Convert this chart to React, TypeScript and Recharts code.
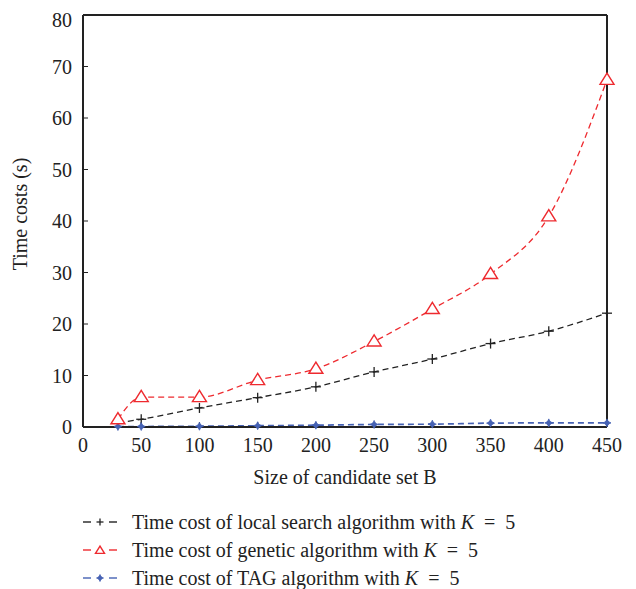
import React from 'react';
import { LineChart, Line, XAxis, YAxis, Label } from 'recharts';

const sizes = [30, 50, 100, 150, 200, 250, 300, 350, 400, 450];
const localSearch = [0.8, 1.5, 3.7, 5.7, 7.8, 10.7, 13.2, 16.2, 18.6, 22.1];
const genetic = [1.5, 5.8, 5.8, 9.1, 11.3, 16.6, 22.9, 29.7, 40.9, 67.4];
const tag = [0.1, 0.1, 0.15, 0.25, 0.35, 0.5, 0.55, 0.75, 0.8, 0.8];
const xTicks = [0, 50, 100, 150, 200, 250, 300, 350, 400, 450];
const yTicks = [0, 10, 20, 30, 40, 50, 60, 70, 80];

const data = sizes.map((s, i) => ({ size: s, local: localSearch[i], genetic: genetic[i], tag: tag[i] }));

const BLACK = '#222222';
const RED = '#ee2a2f';
const BLUE = '#4662b4';
const FONT = '"Liberation Serif", "DejaVu Serif", serif';
const FS = 20;

const PlusMark = ({ cx, cy, color = BLACK, r = 5 }: any) => (
  <g>
    <line x1={cx - r} y1={cy} x2={cx + r} y2={cy} stroke={color} strokeWidth={1.3} />
    <line x1={cx} y1={cy - r} x2={cx} y2={cy + r} stroke={color} strokeWidth={1.3} />
  </g>
);

const TriMark = ({ cx, cy, color = RED, r = 7 }: any) => {
  const h = r * 1.6;
  const pts = `${cx},${cy - h * 0.6} ${cx - r},${cy + h * 0.4} ${cx + r},${cy + h * 0.4}`;
  return <polygon points={pts} fill="white" stroke={color} strokeWidth={1.4} />;
};

const StarMark = ({ cx, cy, color = BLUE, r = 4 }: any) => {
  const pts: string[] = [];
  for (let i = 0; i < 8; i++) {
    const rr = i % 2 === 0 ? r : r * 0.45;
    const a = (Math.PI / 4) * i - Math.PI / 2;
    pts.push(`${cx + rr * Math.cos(a)},${cy + rr * Math.sin(a)}`);
  }
  return (
    <g>
      <polygon points={pts.join(' ')} fill={color} stroke={color} strokeWidth={0.8} />
      <circle cx={cx} cy={cy} r={r * 0.55} fill={color} />
    </g>
  );
};

const renderPlus = (p: any) => <PlusMark key={`p${p.index}`} cx={p.cx} cy={p.cy} />;
const renderTri = (p: any) => <TriMark key={`t${p.index}`} cx={p.cx} cy={p.cy} />;
const renderStar = (p: any) => <StarMark key={`s${p.index}`} cx={p.cx} cy={p.cy} />;

const legendItems = [
  { color: BLACK, mark: 'plus', text: 'Time cost of local search algorithm with ' },
  { color: RED, mark: 'tri', text: 'Time cost of genetic algorithm with ' },
  { color: BLUE, mark: 'star', text: 'Time cost of TAG algorithm with ' },
];

const LegendSample = ({ color, mark }: any) => (
  <svg width={38} height={20} style={{ display: 'block' }}>
    <line x1={1} y1={10} x2={9} y2={10} stroke={color} strokeWidth={1.4} />
    <line x1={27} y1={10} x2={35} y2={10} stroke={color} strokeWidth={1.4} />
    {mark === 'plus' && <PlusMark cx={18} cy={10} color={color} r={3.5} />}
    {mark === 'tri' && <TriMark cx={18} cy={10.5} color={color} r={4.5} />}
    {mark === 'star' && <StarMark cx={18} cy={10} color={color} r={3.5} />}
  </svg>
);

const YLabel = () => {
  const x = 12;
  const y = 206;
  return (
    <text x={x} y={y} transform={`rotate(-90, ${x}, ${y})`} textAnchor="middle" dominantBaseline="central"
      fontFamily={FONT} fontSize={FS} fill={BLACK}>
      Time costs (s)
    </text>
  );
};

export default function App() {
  const tickStyle = { fontFamily: FONT, fontSize: FS, fill: BLACK };
  const axisLine = { stroke: BLACK, strokeWidth: 2 };
  const tickLine = { stroke: BLACK, strokeWidth: 1 };
  return (
    <div style={{ position: 'relative', width: 620, height: 581, fontFamily: FONT }}>
      <LineChart width={620} height={480} data={data} margin={{ top: 6, right: 20, left: 0, bottom: 0 }}>
        <XAxis dataKey="size" type="number" domain={[0, 450]} ticks={xTicks} height={61}
          tick={tickStyle} tickSize={-5} tickMargin={16} axisLine={axisLine} tickLine={tickLine}>
          <Label value="Size of candidate set B" position="insideBottom" offset={4}
            style={{ fontFamily: FONT, fontSize: FS, fill: BLACK }} />
        </XAxis>
        <XAxis xAxisId="top" dataKey="size" type="number" domain={[0, 450]} ticks={xTicks} orientation="top" height={1}
          tick={false} tickSize={-5} axisLine={axisLine} tickLine={tickLine} />
        <YAxis type="number" domain={[0, 80]} ticks={yTicks} width={75} tick={tickStyle} tickSize={-5} tickMargin={16}
          axisLine={axisLine} tickLine={tickLine}>
          <Label content={<YLabel />} />
        </YAxis>
        <YAxis yAxisId="right" type="number" domain={[0, 80]} ticks={yTicks} orientation="right" width={1}
          tick={false} tickSize={-5} axisLine={axisLine} tickLine={tickLine} />
        <Line xAxisId="top" yAxisId="right" dataKey="local" stroke="none" strokeWidth={0} dot={false}
          activeDot={false} isAnimationActive={false} legendType="none" />
        <Line dataKey="local" type="monotone" stroke={BLACK} strokeWidth={1.3} strokeDasharray="6 4"
          dot={renderPlus} activeDot={false} isAnimationActive={false} />
        <Line dataKey="tag" type="monotone" stroke={BLUE} strokeWidth={1.7} strokeDasharray="6 4"
          dot={renderStar} activeDot={false} isAnimationActive={false} />
        <Line dataKey="genetic" type="monotone" stroke={RED} strokeWidth={1.3} strokeDasharray="6 4"
          dot={renderTri} activeDot={false} isAnimationActive={false} />
      </LineChart>
      {legendItems.map((it, i) => (
        <div key={i} style={{ position: 'absolute', left: 74, top: 504 + i * 28, height: 20, display: 'flex', alignItems: 'center' }}>
          <LegendSample color={it.color} mark={it.mark} />
          <span style={{ marginLeft: 12, fontSize: FS, color: BLACK, whiteSpace: 'nowrap', lineHeight: '20px' }}>
            {it.text}<i>K</i>{'\u2002=\u20025'}
          </span>
        </div>
      ))}
    </div>
  );
}
